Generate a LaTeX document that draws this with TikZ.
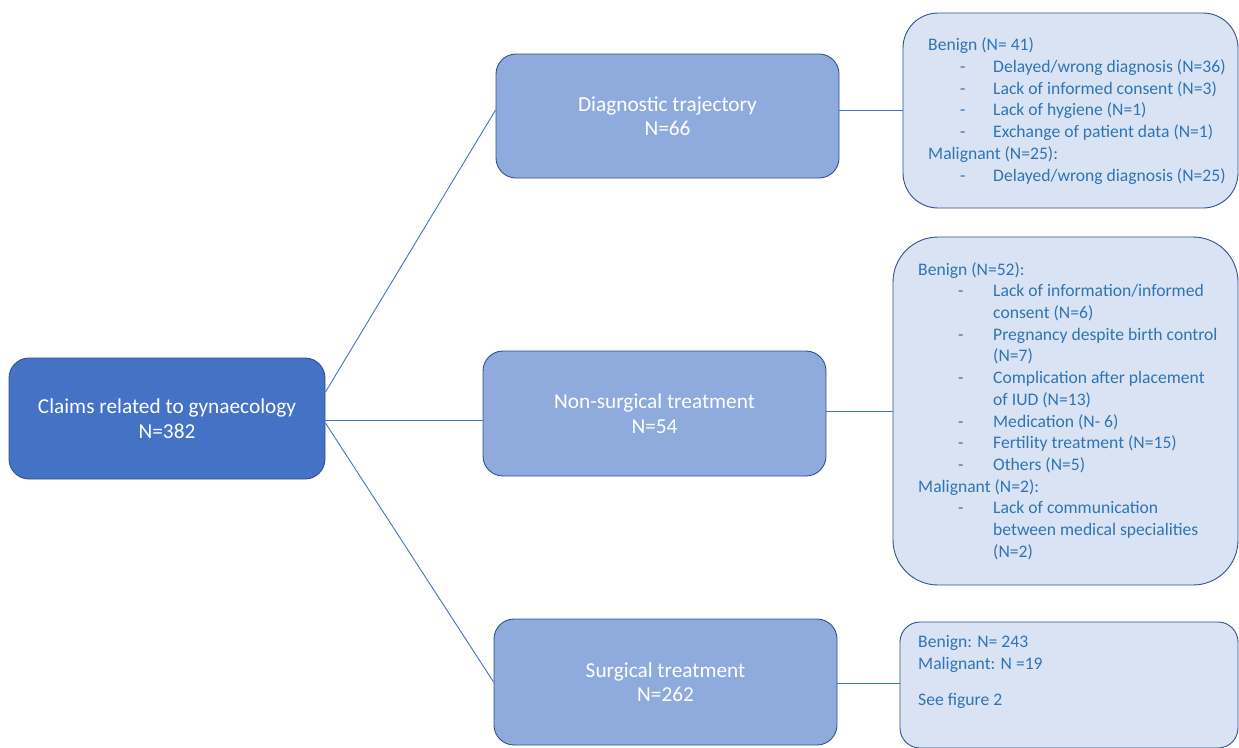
\documentclass[tikz,border=0pt]{standalone}
\usepackage{fontspec}
\setmainfont{Carlito}
\usetikzlibrary{calc}
\definecolor{rootfill}{HTML}{4472C4}
\definecolor{midfill}{HTML}{8FAADC}
\definecolor{detfill}{HTML}{DAE3F3}
\definecolor{edgecol}{HTML}{2F528F}
\definecolor{linecol}{HTML}{4472C4}
\definecolor{txtblue}{HTML}{2E74B5}
\tikzset{
  rootbox/.style={draw=edgecol, fill=rootfill, line width=0.9pt, rounded corners=20pt, inner sep=0pt, text=white, align=center, font=\fontsize{21.3}{24.5}\selectfont},
  midbox/.style={draw=edgecol, fill=midfill, line width=0.9pt, rounded corners=20pt, inner sep=0pt, text=white, align=center, font=\fontsize{21.3}{24.5}\selectfont},
  detbox/.style={draw=edgecol, fill=detfill, line width=0.9pt, inner sep=0pt},
  dettext/.style={text=txtblue, align=left, inner sep=0pt, font=\fontsize{17.6}{21.7}\selectfont},
  conn/.style={draw=linecol, line width=0.9pt}
}
\newcommand{\dashitem}[3]{\hspace*{#1}\makebox[#2][l]{-}#3}
\begin{document}
\begin{tikzpicture}[x=1pt,y=-1pt]
\useasboundingbox (0,0) rectangle (1239,747);
% main boxes
\node[rootbox, minimum width=316pt, minimum height=121pt] (root) at (167,418.5) {Claims related to gynaecology\\N=382};
\node[midbox, minimum width=343pt, minimum height=124pt] (diag) at (667.5,116) {Diagnostic trajectory\\N=66};
\node[midbox, minimum width=343pt, minimum height=125pt] (ns) at (654.5,413.5) {Non-surgical treatment\\N=54};
\node[midbox, minimum width=343pt, minimum height=126pt] (surg) at (665.5,682) {Surgical treatment\\N=262};
% detail boxes
\node[detbox, rounded corners=35pt, minimum width=335pt, minimum height=195pt] (d1) at (1070.5,110.5) {};
\node[detbox, rounded corners=45pt, minimum width=345pt, minimum height=348pt] (d2) at (1065.5,411) {};
\node[detbox, rounded corners=20pt, minimum width=338pt, minimum height=126pt] (d3) at (1069,685) {};
% detail texts
\node[dettext, anchor=west] (d1t) at (928,111) {Benign (N= 41)\\
\dashitem{32pt}{33pt}{Delayed/wrong diagnosis (N=36)}\\
\dashitem{32pt}{33pt}{Lack of informed consent (N=3)}\\
\dashitem{32pt}{33pt}{Lack of hygiene (N=1)}\\
\dashitem{32pt}{33pt}{Exchange of patient data (N=1)}\\
Malignant (N=25):\\
\dashitem{32pt}{33pt}{Delayed/wrong diagnosis (N=25)}};
\node[dettext, anchor=west] (d2t) at (918,411) {Benign (N=52):\\
\dashitem{40pt}{35pt}{Lack of information/informed}\\
\hspace*{75pt}consent (N=6)\\
\dashitem{40pt}{35pt}{Pregnancy despite birth control}\\
\hspace*{75pt}(N=7)\\
\dashitem{40pt}{35pt}{Complication after placement}\\
\hspace*{75pt}of IUD (N=13)\\
\dashitem{40pt}{35pt}{Medication (N- 6)}\\
\dashitem{40pt}{35pt}{Fertility treatment (N=15)}\\
\dashitem{40pt}{35pt}{Others (N=5)}\\
Malignant (N=2):\\
\dashitem{40pt}{35pt}{Lack of communication}\\
\hspace*{75pt}between medical specialities\\
\hspace*{75pt}(N=2)};
\node[dettext, anchor=north west] (d3t) at (918,635) {Benign: N= 243\\Malignant: N =19\\[15pt]See figure 2};
% connectors
\draw[conn] ([yshift=26.5pt]root.east) -- ([yshift=6pt]diag.west);
\draw[conn] ([yshift=-1.5pt]root.east) -- ([yshift=-1.5pt]root.east -| ns.west);
\draw[conn] ([yshift=-4.5pt]root.east) -- (surg.west);
\draw[conn] ([yshift=6pt]diag.east) -- ([yshift=6pt]diag.east -| d1.west);
\draw[conn] ([yshift=2.5pt]ns.east) -- ([yshift=2.5pt]ns.east -| d2.west);
\draw[conn] ([yshift=-1pt]surg.east) -- ([yshift=-1pt]surg.east -| d3.west);
\end{tikzpicture}
\end{document}
